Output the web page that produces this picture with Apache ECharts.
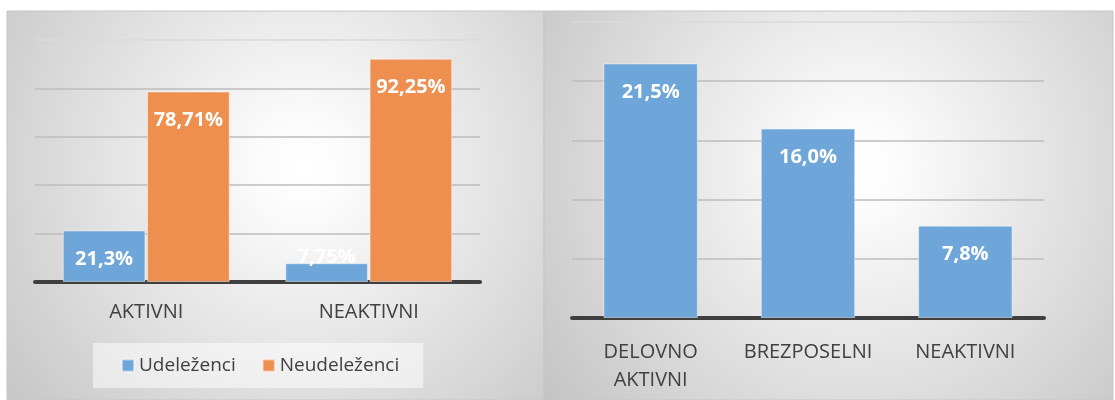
<!DOCTYPE html>
<html>
<head>
<meta charset="utf-8">
<script src="https://cdn.jsdelivr.net/npm/echarts@6/dist/echarts.min.js"></script>
<style>
    html, body { margin: 0; padding: 0; background: #fff; }
    #chart { width: 1115px; height: 400px; }
</style>
</head>
<body>
<div id="chart"></div>
<script>
    // levi graf: udeleženci / neudeleženci
    var statusCategories = ['AKTIVNI', 'NEAKTIVNI'];
    var udelezenci = [21.3, 7.75];
    var neudelezenci = [78.71, 92.25];
    // desni graf
    var groupCategories = ['DELOVNO AKTIVNI', 'BREZPOSELNI', 'NEAKTIVNI'];
    var groupValues = [21.5, 16.0, 7.8];

    var BLUE = '#6fa6d9';
    var ORANGE = '#ee8f4f';
    var FONT = 'Open Sans';

    var chart = echarts.init(document.getElementById('chart'));

    function panelFill() {
        return new echarts.graphic.RadialGradient(0.55, 0.4, 1, [
            {offset: 0, color: '#ffffff'},
            {offset: 0.12, color: '#fbfbfb'},
            {offset: 1, color: '#c4c4c4'}
        ]);
    }

    var gridLines = ['#bdbdbd', '#bdbdbd', '#bdbdbd', '#bdbdbd', '#bdbdbd', '#dadada'];

    var valueLabel = {
        show: true,
        position: 'insideTop',
        distance: 19,
        color: '#fff',
        fontFamily: FONT,
        fontWeight: 'bold',
        fontSize: 20,
        textBorderWidth: 0
    };

    option = {
        animation: false,
        textStyle: {fontFamily: FONT},
        graphic: {
            elements: [
                {
                    type: 'rect', z: -10, silent: true,
                    shape: {x: 7, y: 11, width: 537, height: 389},
                    style: {fill: panelFill(), stroke: '#c6c6c6', lineWidth: 1}
                },
                {
                    type: 'rect', z: -10, silent: true,
                    shape: {x: 544, y: 11, width: 569, height: 389},
                    style: {fill: panelFill(), stroke: '#c6c6c6', lineWidth: 1}
                }
            ]
        },
        legend: {
            data: ['Udeleženci', 'Neudeleženci'],
            left: 93,
            top: 343,
            padding: [13, 24, 13, 28],
            backgroundColor: 'rgba(255,255,255,0.5)',
            itemWidth: 12,
            itemHeight: 12,
            itemGap: 26,
            icon: 'rect',
            textStyle: {fontFamily: FONT, fontSize: 19, color: '#404040'}
        },
        grid: [
            {left: 35, right: 635, top: 40, bottom: 118},
            {left: 572, right: 71, top: 22, bottom: 82}
        ],
        xAxis: [
            {
                type: 'category', gridIndex: 0, data: statusCategories,
                axisTick: {show: false},
                axisLine: {lineStyle: {color: '#3f3f3f', width: 4}},
                axisLabel: {interval: 0, margin: 20, fontSize: 20, color: '#404040', fontFamily: FONT}
            },
            {
                type: 'category', gridIndex: 1, data: groupCategories,
                axisTick: {show: false},
                axisLine: {lineStyle: {color: '#3f3f3f', width: 4}},
                axisLabel: {
                    interval: 0, margin: 20, fontSize: 20, color: '#404040', fontFamily: FONT, lineHeight: 28,
                    formatter: function (v) { return v.replace(' ', '\n'); }
                }
            }
        ],
        yAxis: [
            {
                type: 'value', gridIndex: 0, min: 0, max: 100, interval: 20,
                axisLabel: {show: false}, axisLine: {show: false}, axisTick: {show: false},
                splitLine: {lineStyle: {color: gridLines, width: 1.5}}
            },
            {
                type: 'value', gridIndex: 1, min: 0, max: 25, interval: 5,
                axisLabel: {show: false}, axisLine: {show: false}, axisTick: {show: false},
                splitLine: {lineStyle: {color: gridLines, width: 1.5}}
            }
        ],
        series: [
            {
                name: 'Udeleženci', type: 'bar', xAxisIndex: 0, yAxisIndex: 0,
                data: udelezenci.map(function (v, i) {
                    // prenizek stolpec: oznaka sega nad stolpec (bela na beli)
                    if (i === 1) {
                        return {value: v, label: {
                            position: 'top', distance: -4,
                            textBorderWidth: 0, textBorderColor: 'transparent',
                            textShadowBlur: 0, textShadowColor: 'transparent'
                        }};
                    }
                    return v;
                }),
                barGap: '2%', barCategoryGap: '25%',
                itemStyle: {color: BLUE, borderColor: 'rgba(255,255,255,0.45)', borderWidth: 1},
                label: Object.assign({}, valueLabel, {
                    formatter: function (p) { return String(p.value).replace('.', ',') + '%'; }
                })
            },
            {
                name: 'Neudeleženci', type: 'bar', xAxisIndex: 0, yAxisIndex: 0,
                data: neudelezenci,
                barGap: '2%', barCategoryGap: '25%',
                itemStyle: {color: ORANGE, borderColor: 'rgba(255,255,255,0.45)', borderWidth: 1},
                label: Object.assign({}, valueLabel, {
                    formatter: function (p) { return String(p.value).replace('.', ',') + '%'; }
                })
            },
            {
                name: 'Skupine', type: 'bar', xAxisIndex: 1, yAxisIndex: 1,
                data: groupValues,
                barCategoryGap: '40%',
                itemStyle: {color: BLUE, borderColor: 'rgba(255,255,255,0.45)', borderWidth: 1},
                label: Object.assign({}, valueLabel, {
                    formatter: function (p) { return p.value.toFixed(1).replace('.', ',') + '%'; }
                })
            }
        ]
    };
    chart.setOption(option);
</script>
</body>
</html>
